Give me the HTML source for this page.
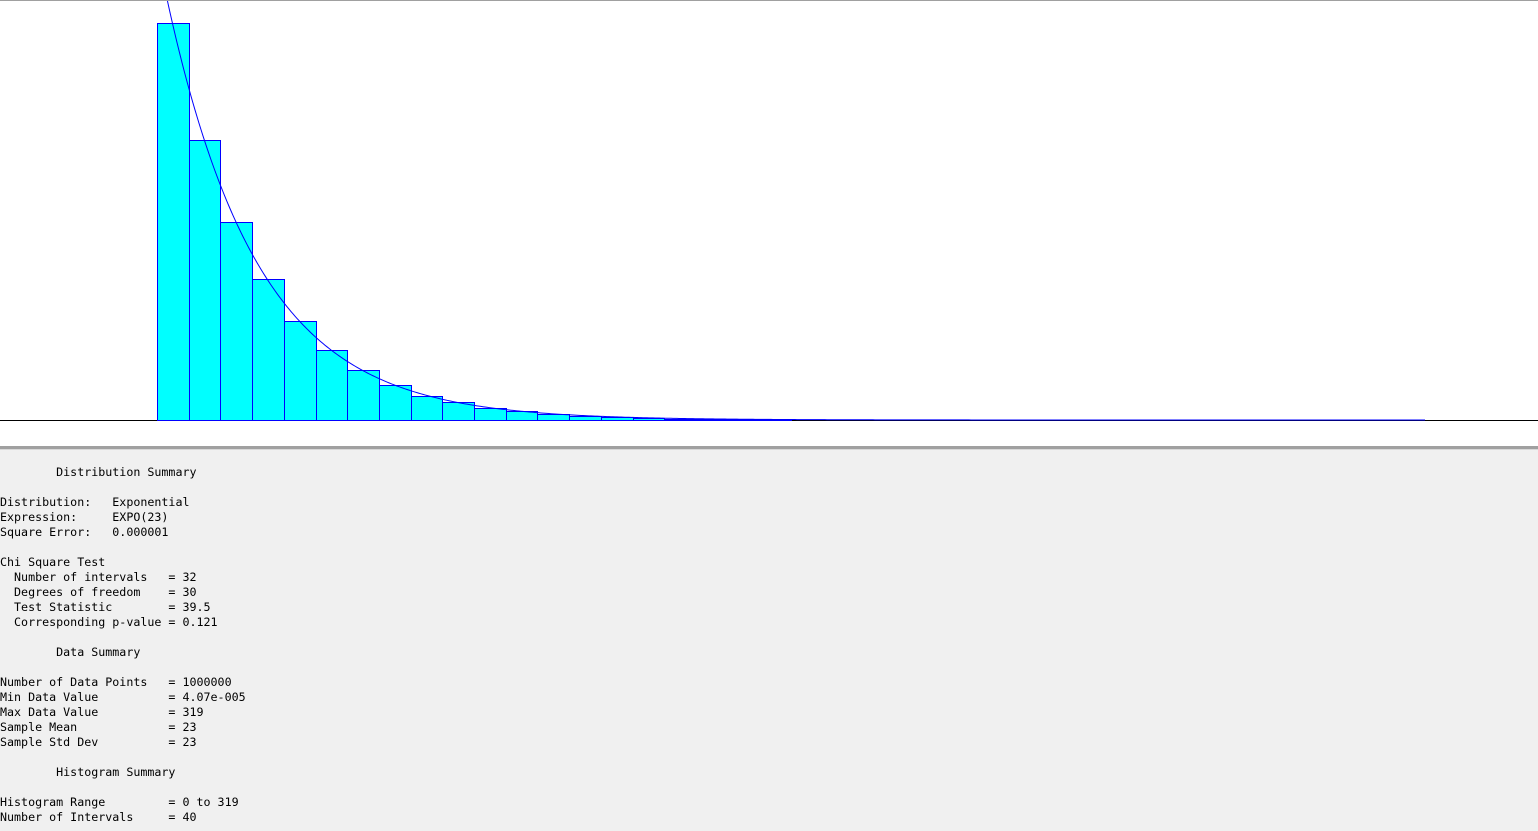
<!DOCTYPE html>
<html><head><meta charset="utf-8"><style>
body{margin:0;width:1538px;height:831px;overflow:hidden;background:#f0f0f0;position:relative;font-family:"Liberation Mono",monospace}
#chart{position:absolute;left:0;top:0;width:1538px;height:447px;background:#fff;display:block}
#topline{position:absolute;left:0;top:0;width:1538px;height:1px;background:#a0a0a0}
#sep{position:absolute;left:0;top:446px;width:1538px;height:3px;background:#a0a0a0;border-bottom:1px solid #d8d8d8}
pre{position:absolute;left:0;top:465px;margin:0;font-size:11.67px;line-height:15px;color:#000}
</style></head><body>
<svg id="chart" width="1538" height="447"></svg>
<div id="topline"></div>
<div id="sep"></div>
<pre>        Distribution Summary

Distribution:   Exponential
Expression:     EXPO(23)
Square Error:   0.000001

Chi Square Test
  Number of intervals   = 32
  Degrees of freedom    = 30
  Test Statistic        = 39.5
  Corresponding p-value = 0.121

        Data Summary

Number of Data Points   = 1000000
Min Data Value          = 4.07e-005
Max Data Value          = 319
Sample Mean             = 23
Sample Std Dev          = 23

        Histogram Summary

Histogram Range         = 0 to 319
Number of Intervals     = 40</pre>
<script>
const rangeMin = 0, rangeMax = 319;
const freqs = [0.293,0.207,0.146,0.104,0.073,0.052,0.037,0.026,0.018,0.013,0.009,0.0065,0.0046,0.0032,0.0023,0.0016,0.0011,0.0008,0.00057,0.0004,0.0003,0.0002,0.00014,0.0001,0.00007,0.00005,0.00003,0.00002,0.00001,0.00001,0,0,0,0,0,0,0,0,0,0];
const fitMean = 23;
const svg = document.getElementById('chart');
const NS = 'http://www.w3.org/2000/svg';
const x0 = 157, x1 = 1425, baseY = 420, pxPerUnit = 1355;
const xs = v => x0 + (v - rangeMin) / (rangeMax - rangeMin) * (x1 - x0);
const ys = f => baseY - f * pxPerUnit;
const bw = (rangeMax - rangeMin) / freqs.length;
const axis = document.createElementNS(NS,'line');
axis.setAttribute('x1',0);axis.setAttribute('x2',1538);axis.setAttribute('y1',baseY+0.5);axis.setAttribute('y2',baseY+0.5);
axis.setAttribute('stroke','#000');


svg.appendChild(axis);
freqs.forEach((f,i)=>{
  if(f*pxPerUnit<0.5) return;
  const r = document.createElementNS(NS,'rect');
  const a = xs(rangeMin+i*bw), b = xs(rangeMin+(i+1)*bw);
  r.setAttribute('x',Math.round(a)+0.5);r.setAttribute('width',Math.round(b)-Math.round(a));
  r.setAttribute('y',Math.round(ys(f))+0.5);r.setAttribute('height',Math.max(0,baseY-Math.round(ys(f))));
  r.setAttribute('fill','#00ffff');r.setAttribute('stroke','#0000ff');r.setAttribute('stroke-width','1');
  
  
  svg.appendChild(r);
});
let d='';
for(let px=x0; px<=x1; px+=2){
  const v = rangeMin + (px-x0)/(x1-x0)*(rangeMax-rangeMin);
  const f = bw/fitMean*Math.exp(-v/fitMean);
  d += (d?'L':'M')+px+','+ys(f).toFixed(2);
}
const p = document.createElementNS(NS,'path');
p.setAttribute('d',d);p.setAttribute('fill','none');p.setAttribute('stroke','#0000ff');p.setAttribute('stroke-width','1');


svg.appendChild(p);
</script>
</body></html>
